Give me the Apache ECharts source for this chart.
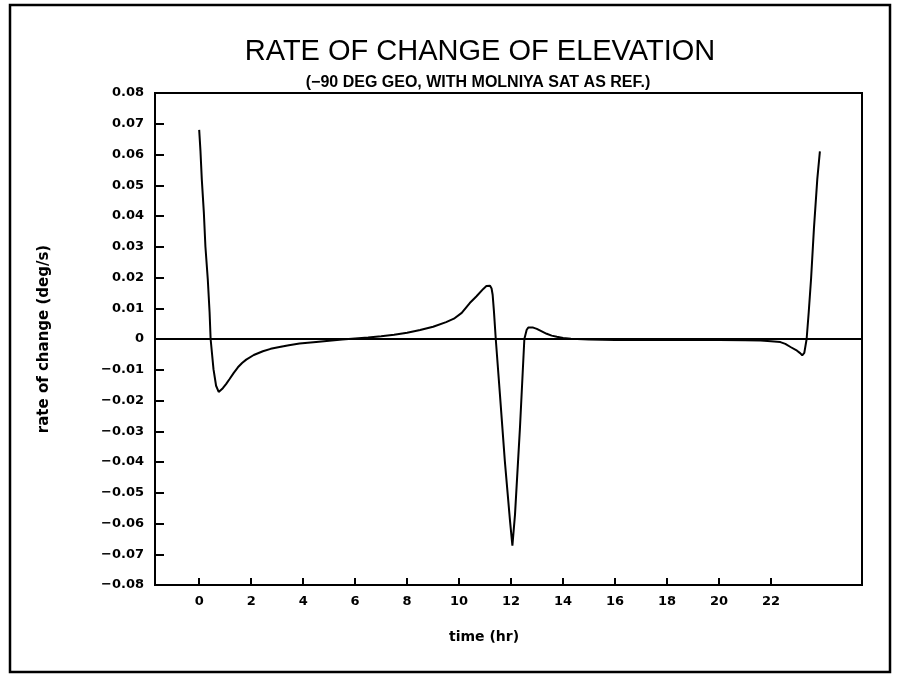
<!DOCTYPE html>
<html>
<head>
<meta charset="utf-8">
<script src="https://cdn.jsdelivr.net/npm/echarts@6/dist/echarts.min.js"></script>
<style>
  html, body { margin: 0; padding: 0; background: #fff; }
  #chart { width: 897px; height: 674px; }
</style>
</head>
<body>
<div id="chart"></div>
<script>
// ---- data ----
const timeHr = [0, 0.05, 0.1, 0.18, 0.24, 0.33, 0.4, 0.44, 0.55, 0.65, 0.75, 0.82, 0.91, 1.04, 1.17, 1.33, 1.49, 1.65, 1.81, 2.1, 2.45, 2.75, 3.09, 3.45, 3.86, 4.5, 5.0, 5.5, 6.0, 6.5, 7.0, 7.5, 8.0, 8.5, 9.0, 9.5, 9.8, 10.1, 10.41, 10.67, 10.93, 11.05, 11.12, 11.19, 11.25, 11.29, 11.34, 11.41, 11.57, 11.76, 11.96, 12.05, 12.15, 12.34, 12.51, 12.6, 12.66, 12.73, 12.85, 12.99, 13.18, 13.37, 13.56, 13.76, 14.0, 14.3, 15, 16, 17, 18, 19, 20, 21, 21.6, 22.0, 22.36, 22.55, 22.75, 23.0, 23.12, 23.2, 23.28, 23.37, 23.45, 23.54, 23.65, 23.78, 23.88];
const rateDegS = [0.068, 0.061, 0.052, 0.041, 0.030, 0.0195, 0.0087, 0, -0.0098, -0.0152, -0.0172, -0.0168, -0.016, -0.0146, -0.013, -0.011, -0.0092, -0.0078, -0.0067, -0.0052, -0.004, -0.0032, -0.0026, -0.002, -0.0015, -0.001, -0.0006, -0.0002, 0.0002, 0.0005, 0.0009, 0.0014, 0.002, 0.0029, 0.004, 0.0055, 0.0066, 0.0085, 0.0117, 0.0139, 0.0163, 0.0172, 0.0175, 0.0173, 0.0164, 0.0144, 0.009, 0, -0.018, -0.0398, -0.0593, -0.0672, -0.0571, -0.029, 0, 0.003, 0.0037, 0.0039, 0.0037, 0.0033, 0.0025, 0.0017, 0.0011, 0.0007, 0.0003, 0.0001, -0.0002, -0.0003, -0.0003, -0.0003, -0.0003, -0.0003, -0.0004, -0.0005, -0.0007, -0.001, -0.0016, -0.0026, -0.0038, -0.0046, -0.0053, -0.0045, 0, 0.0087, 0.0195, 0.0358, 0.052, 0.061];
const xTickValues = [0, 2, 4, 6, 8, 10, 12, 14, 16, 18, 20, 22];
const titleText = 'RATE OF CHANGE OF ELEVATION';
const subtitleText = '(\u221290 DEG GEO, WITH MOLNIYA SAT AS REF.)';
const xName = 'time (hr)';
const yName = 'rate of change (deg/s)';

const points = timeHr.map((t, i) => [t, rateDegS[i]]);
const labelFont = { color: '#000', fontFamily: 'DejaVu Sans', fontWeight: 'bold', fontSize: 13 };

const chart = echarts.init(document.getElementById('chart'), null, { renderer: 'canvas' });
chart.setOption({
  backgroundColor: '#fff',
  animation: false,
  title: [
    { text: titleText, left: 475, top: 32, textAlign: 'center',
      textStyle: { fontFamily: 'Liberation Sans', fontWeight: 'normal', fontSize: 29, color: '#000' } },
    { text: subtitleText, left: 473, top: 70, textAlign: 'center',
      textStyle: { fontFamily: 'Liberation Sans', fontWeight: 'bold', fontSize: 16, color: '#000' } },
    { text: xName, left: 479, top: 625, textAlign: 'center',
      textStyle: { fontFamily: 'DejaVu Sans', fontWeight: 'bold', fontSize: 14, color: '#000' } }
  ],
  graphic: [{
    type: 'rect', silent: true,
    shape: { x: 10, y: 5, width: 880, height: 667 },
    style: { fill: 'none', stroke: '#000', lineWidth: 2.5 }
  }],
  grid: { left: 155, right: 35, top: 93, bottom: 89, show: true, borderColor: '#000', borderWidth: 2, backgroundColor: 'transparent' },
  xAxis: {
    type: 'value', min: -1.7, max: 25.5,
    axisLine: { show: true, onZero: false, lineStyle: { color: '#000', width: 2 } },
    axisTick: { show: true, inside: true, length: 7, customValues: xTickValues, lineStyle: { color: '#000', width: 2 } },
    axisLabel: { show: true, margin: 10, customValues: xTickValues, ...labelFont, formatter: v => String(v) },
    splitLine: { show: false }
  },
  yAxis: {
    type: 'value', min: -0.08, max: 0.08, interval: 0.01,
    name: yName, nameLocation: 'middle', nameGap: 103, nameRotate: 90,
    nameTextStyle: { fontFamily: 'DejaVu Sans', fontWeight: 'bold', fontSize: 15, color: '#000' },
    axisLine: { show: true, onZero: false, lineStyle: { color: '#000', width: 2 } },
    axisTick: { show: true, inside: true, length: 9, lineStyle: { color: '#000', width: 2 } },
    axisLabel: { show: true, margin: 11, ...labelFont,
      formatter: v => Math.abs(v) < 1e-9 ? '0' : (v < 0 ? '\u2212' : '') + Math.abs(v).toFixed(2) },
    splitLine: { show: false }
  },
  series: [{
    type: 'line', data: points, showSymbol: false, smooth: false,
    lineStyle: { color: '#000', width: 2 },
    markLine: {
      silent: true, symbol: 'none', label: { show: false },
      lineStyle: { color: '#000', width: 2, type: 'solid' },
      data: [{ yAxis: 0 }]
    }
  }]
});
</script>
</body>
</html>
